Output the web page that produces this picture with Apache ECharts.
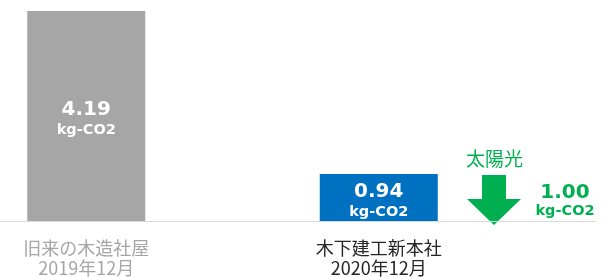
<!DOCTYPE html>
<html>
<head>
<meta charset="utf-8">
<script src="https://cdn.jsdelivr.net/npm/echarts@6/dist/echarts.min.js"></script>
<style>
  html, body { margin: 0; padding: 0; background: #fff; }
  #main { width: 603px; height: 277px; }
</style>
</head>
<body>
<div id="main"></div>
<script>
  // 建物ごとのCO2排出量
  var buildings = ['旧来の木造社屋', '木下建工新本社'];
  var periods = ['2019年12月', '2020年12月'];
  var co2Values = [4.19, 0.94];
  var barColors = ['#a6a6a6', '#0070c0'];
  var labelColors = ['#a6a6a6', '#262626'];
  // 太陽光による削減分
  var solarName = '太陽光';
  var solarValue = 1.00;
  var unit = 'kg-CO2';
  var green = '#00b050';

  var chart = echarts.init(document.getElementById('main'));

  var cats = buildings.map(function (b, i) {
    return { value: b + '\n' + periods[i], textStyle: { color: labelColors[i] } };
  });

  var barData = co2Values.map(function (v, i) {
    return { value: v, itemStyle: { color: barColors[i] } };
  });

  chart.setOption({
    animation: false,
    grid: [
      { left: -60, right: 78, top: 11, bottom: 56, outerBoundsMode: 'none', containLabel: false },
      { left: 0, right: 7, top: 11, bottom: 56, outerBoundsMode: 'none', containLabel: false }
    ],
    xAxis: [
      {
        type: 'category', data: cats, gridIndex: 0,
        axisLine: { show: false }, axisTick: { show: false },
        axisLabel: {
          margin: 17, fontSize: 18, lineHeight: 20,
          fontFamily: '"Noto Sans CJK JP", sans-serif'
        }
      },
      {
        type: 'category', data: [''], gridIndex: 1,
        axisLine: { lineStyle: { color: '#d9d9d9', width: 1 } },
        axisTick: { show: false }, axisLabel: { show: false }
      }
    ],
    yAxis: [
      { type: 'value', gridIndex: 0, min: 0, max: Math.max.apply(null, co2Values), show: false },
      { type: 'value', gridIndex: 1, min: 0, max: 1, show: false }
    ],
    series: [{
      type: 'bar',
      xAxisIndex: 0, yAxisIndex: 0,
      data: barData,
      barWidth: 118,
      label: {
        show: true,
        position: 'inside',
        offset: [0, 3],
        formatter: function (p) { return '{v|' + p.value.toFixed(2) + '}\n{u|' + unit + '}'; },
        rich: {
          v: { color: '#fff', fontSize: 20, fontWeight: 'bold', lineHeight: 23, fontFamily: 'DejaVu Sans' },
          u: { color: '#fff', fontSize: 14.5, fontWeight: 'bold', lineHeight: 18, fontFamily: 'DejaVu Sans' }
        }
      }
    }],
    graphic: [
      {
        type: 'text', left: 466, top: 149,
        style: { text: solarName, fill: green, fontSize: 19, fontFamily: '"Noto Sans CJK JP", sans-serif' }
      },
      {
        type: 'polygon',
        shape: { points: [[482, 175], [506, 175], [506, 199], [521, 199], [494, 225], [467, 199], [482, 199]] },
        style: { fill: green }
      },
      {
        type: 'text', x: 565, y: 201,
        style: {
          text: '{v|' + solarValue.toFixed(2) + '}\n{u|' + unit + '}',
          align: 'center', verticalAlign: 'middle',
          rich: {
            v: { fill: green, fontSize: 20, fontWeight: 'bold', lineHeight: 21, fontFamily: 'DejaVu Sans', align: 'center' },
            u: { fill: green, fontSize: 14.5, fontWeight: 'bold', lineHeight: 17, fontFamily: 'DejaVu Sans', align: 'center' }
          }
        }
      }
    ]
  });
</script>
</body>
</html>
